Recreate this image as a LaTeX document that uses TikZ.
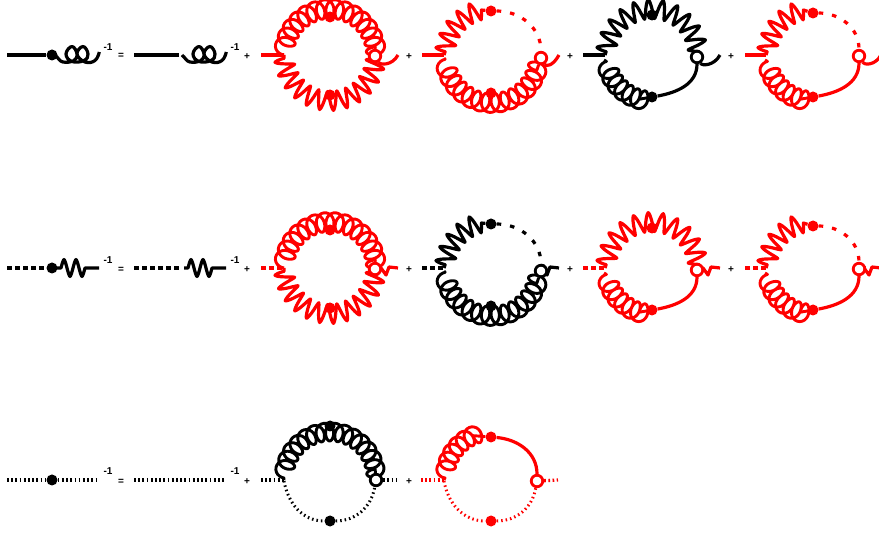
\documentclass[tikz,border=0pt]{standalone}
\usepackage{fontspec}
\setmainfont{Liberation Sans}
\usetikzlibrary{backgrounds,calc}
\tikzset{
  x=1pt,y=1pt,
  wire/.style={line width=3.2pt,line join=round},
  coilwire/.style={line width=2.9pt,line join=round},
  dashline/.style={wire,dash pattern=on 5pt off 3pt},
  sparse/.style={wire,dash pattern=on 4.5pt off 9pt},
  dotline/.style={line width=3.3pt,dash pattern=on 1.7pt off 2.5pt},
  thindot/.style={line width=3pt,dash pattern=on 1.5pt off 3pt},
  soliddot/.style={circle,fill=#1,draw=none,minimum size=11pt,inner sep=0pt},
  opendot/.style={circle,fill=white,draw=#1,line width=2.8pt,minimum size=11.5pt,inner sep=0pt},
  lbl/.style={font=\bfseries\fontsize{10}{11}\selectfont,inner sep=0pt,text=black},
}
% coil along a circular arc: style, from, to, th0, th1, loops, R, amplitude, loop width in degrees
\newcommand{\coilarc}[9]{\draw[coilwire,#1] (#2) -- plot[variable=\t,domain=-90:{-90+360*#6},samples={24*#6+1}]
  ({#4+(\t+90)/(360*#6)*(#5-(#4))+(#9)*sin(\t)}:{#7+#8*cos(\t)}) -- (#3);}
% wave along a circular arc: style, from, to, th0, th1, periods, R, amplitude
\newcommand{\wavearc}[8]{\draw[wire,#1] (#2) -- plot[variable=\t,domain=-90:{-90+360*#6},samples={24*#6+1}]
  ({#4+(\t+90)/(360*#6)*(#5-(#4))}:{#7+#8*(0.4*asin(cos(\t))/90+0.6*cos(\t))}) -- (#3);}
\newcommand{\hookend}[3]{% prefix, colour, x of end
  \coordinate (#1e) at (#3,0);
  \draw[wire,#2] (#1r) .. controls ++(5,-9) and ($(#1e)+(-6,-11)$) .. (#1e);}
\newcommand{\wigend}[3]{%
  \coordinate (#1e) at (#3,0);
  \coordinate (#1w) at ($(#1e)+(-17,0)$);
  \draw[wire,#2] (#1r) -- (#1w) -- ++(5,-7) -- ++(3,8) -- (#1e);}
\newcommand{\theend}{}
\newcommand{\thestyle}{wire}
\newcommand{\propcoil}[2]{\begin{scope}[shift={(#1,#2)}]
  \draw[wire,smooth,tension=0.75] plot coordinates {(3,0) (5,-2) (11,-7) (22,-5.5) (25,1) (20,8.5) (14,1) (20,-6.5) (32,-5.5) (36,1) (31,8.5) (25,1) (33,-7) (43,-5.5) (47.3,3)};
\end{scope}}
\newcommand{\propwave}[2]{\begin{scope}[shift={(#1,#2)}]
  \draw[wire] (5,0) -- plot[variable=\t,domain=-90:630,samples=49]
    ({9+(\t+90)/720*24},{8.5*(0.4*asin(cos(\t))/90+0.6*cos(\t))}) -- (47,0);
\end{scope}}
\newcommand{\diagA}[3]{\begin{scope}[shift={(#2,\rowy)}]
  \coordinate (#1a) at (-69,0); \coordinate (#1l) at (-46,0);
  \node[soliddot=#3] (#1t) at (0,38) {};
  \node[soliddot=#3] (#1b) at (0,-40) {};
  \node[opendot=#3] (#1r) at (45,-1) {};
  \begin{pgfonlayer}{background}
    \draw[\thestyle,#3] (#1a) -- (#1l);
    \coilarc{#3}{#1l}{#1r}{172}{2}{14}{46}{9.5}{-8}
    \wavearc{#3}{#1l}{#1r}{184}{356}{12}{46}{9.5}
    \theend{#1}{#3}{68}
  \end{pgfonlayer}
\end{scope}}
\newcommand{\diagB}[3]{\begin{scope}[shift={(#2,\rowy)}]
  \coordinate (#1a) at (-69,0); \coordinate (#1l) at (-47,0);
  \coordinate (#1g) at (-47,-3);
  \node[soliddot=#3] (#1t) at (0,44) {};
  \node[soliddot=#3] (#1b) at (0,-38) {};
  \node[opendot=#3] (#1r) at (50,-3) {};
  \begin{pgfonlayer}{background}
    \draw[\thestyle,#3] (#1a) -- (#1l);
    \wavearc{#3}{#1l}{#1t}{176}{102}{5}{46}{9.5}
    \draw[sparse,#3] (#1t) to[out=0,in=90] (#1r);
    \coilarc{#3,shift={(1,-1)}}{#1g}{#1r}{192}{350}{13}{47}{9.5}{8}
    \theend{#1}{#3}{68}
  \end{pgfonlayer}
\end{scope}}
\newcommand{\diagC}[3]{\begin{scope}[shift={(#2,\rowy)}]
  \coordinate (#1a) at (-69,0); \coordinate (#1l) at (-47,0);
  \coordinate (#1g) at (-48,-5);
  \node[soliddot=#3] (#1t) at (0,40) {};
  \node[soliddot=#3] (#1b) at (0,-42) {};
  \node[opendot=#3] (#1r) at (45,-2) {};
  \begin{pgfonlayer}{background}
    \draw[\thestyle,#3] (#1a) -- (#1l);
    \wavearc{#3}{#1l}{#1r}{176}{4}{11}{46}{9.5}
    \coilarc{#3}{#1g}{#1b}{196}{262}{6}{46}{9.5}{8}
    \draw[wire,#3] (#1b) to[out=10,in=-90] (#1r);
    \theend{#1}{#3}{68}
  \end{pgfonlayer}
\end{scope}}
\newcommand{\diagD}[3]{\begin{scope}[shift={(#2,\rowy)}]
  \coordinate (#1a) at (-68,0); \coordinate (#1l) at (-47,0);
  \coordinate (#1g) at (-48,-5);
  \node[soliddot=#3] (#1t) at (0,42) {};
  \node[soliddot=#3] (#1b) at (0,-42) {};
  \node[opendot=#3] (#1r) at (46,-1) {};
  \begin{pgfonlayer}{background}
    \draw[\thestyle,#3] (#1a) -- (#1l);
    \wavearc{#3}{#1l}{#1t}{176}{102}{5}{46}{9.5}
    \draw[sparse,#3] (#1t) to[out=0,in=90] (#1r);
    \coilarc{#3}{#1g}{#1b}{196}{262}{6}{46}{9.5}{8}
    \draw[wire,#3] (#1b) to[out=10,in=-90] (#1r);
    \theend{#1}{#3}{68}
  \end{pgfonlayer}
\end{scope}}
\begin{document}
\begin{tikzpicture}
\useasboundingbox (0,0) rectangle (879,536);
% ---------- row 1
\def\rowy{481}
\renewcommand{\theend}{\hookend}
\renewcommand{\thestyle}{wire}
\coordinate (p1a) at (7,481); \node[soliddot=black] (p1d) at (52,481) {};
\draw[wire] (p1a) -- (p1d);
\propcoil{52}{481}
\coordinate (p2a) at (134,481); \coordinate (p2m) at (179,481);
\draw[wire] (p2a) -- (p2m);
\propcoil{179}{481}
\node[lbl] (m11) at (108,489) {-1};
\node[lbl] (eq1) at (121,480) {=};
\node[lbl] (m12) at (235,489) {-1};
\node[lbl] (pl11) at (247,479) {+};
\diagA{ra}{330}{red}
\node[lbl] (pl12) at (409,479) {+};
\diagB{rb}{491}{red}
\node[lbl] (pl13) at (570,479) {+};
\diagC{rc}{652}{black}
\node[lbl] (pl14) at (731,479) {+};
\diagD{rd}{813}{red}
% ---------- row 2
\def\rowy{268}
\renewcommand{\theend}{\wigend}
\renewcommand{\thestyle}{dashline}
\coordinate (q1a) at (7,268); \node[soliddot=black] (q1d) at (52,268) {};
\draw[dashline] (q1a) -- (q1d);
\propwave{52}{268}
\coordinate (q2a) at (134,268); \coordinate (q2m) at (180,268);
\draw[dashline] (q2a) -- (q2m);
\propwave{179}{268}
\node[lbl] (m21) at (108,276) {-1};
\node[lbl] (eq2) at (121,266) {=};
\node[lbl] (m22) at (235,276) {-1};
\node[lbl] (pl21) at (247,266) {+};
\diagA{sa}{330}{red}
\node[lbl] (pl22) at (409,266) {+};
\diagB{sb}{491}{black}
\node[lbl] (pl23) at (570,266) {+};
\diagC{sc}{652}{red}
\node[lbl] (pl24) at (731,266) {+};
\diagD{sd}{813}{red}
% ---------- row 3
\coordinate (u1a) at (7,56); \node[soliddot=black] (u1d) at (52,56) {}; \coordinate (u1e) at (98,56);
\draw[dotline] (u1a) -- (u1d);
\draw[dotline] (u1d) -- (u1e);
\coordinate (u2a) at (134,56); \coordinate (u2e) at (224,56);
\draw[dotline] (u2a) -- (u2e);
\node[lbl] (m31) at (108,65) {-1};
\node[lbl] (eq3) at (121,54) {=};
\node[lbl] (m32) at (235,65) {-1};
\node[lbl] (pl31) at (247,54) {+};
\begin{scope}[shift={(330,56)}]
  \coordinate (ua) at (-69,0); \coordinate (ul) at (-46,0);
  \coordinate (uh) at (-46,-1); \coordinate (ue) at (68,0);
  \node[soliddot=black] (ut) at (0,54) {};
  \node[soliddot=black] (ub) at (0,-41) {};
  \node[opendot=black] (ur) at (46,0) {};
  \begin{pgfonlayer}{background}
    \draw[dotline] (ua) -- (ul);
    \coilarc{shift={(0,2)}}{ul}{ur}{172}{3}{14}{46}{9}{-8}
    \draw[thindot] (uh) to[out=-80,in=180] (ub);
    \draw[thindot] (ub) to[out=0,in=-100] (ur);
    \draw[dotline] (ur) -- (ue);
  \end{pgfonlayer}
\end{scope}
\node[lbl] (pl32) at (409,54) {+};
\begin{scope}[shift={(491,56)}]
  \coordinate (va) at (-70,0); \coordinate (vl) at (-47,0);
  \coordinate (vh) at (-47,-1); \coordinate (ve) at (67,0);
  \node[soliddot=red] (vt) at (0,43) {};
  \node[soliddot=red] (vb) at (0,-41) {};
  \node[opendot=red] (vr) at (46,-1) {};
  \begin{pgfonlayer}{background}
    \draw[dotline,red] (va) -- (vl);
    \coilarc{red,shift={(0,2)}}{vl}{vt}{172}{105}{6}{46}{9}{-8}
    \draw[wire,red] (vt) to[out=-5,in=90] (vr);
    \draw[thindot,red] (vh) to[out=-80,in=180] (vb);
    \draw[thindot,red] (vb) to[out=0,in=-100] (vr);
    \draw[dotline,red] (vr) -- (ve);
  \end{pgfonlayer}
\end{scope}
\end{tikzpicture}
\end{document}
